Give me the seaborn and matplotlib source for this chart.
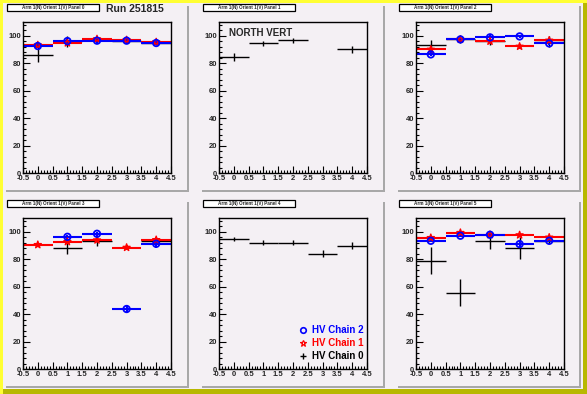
import matplotlib
matplotlib.use("Agg")
import matplotlib.pyplot as plt
from matplotlib.patches import Rectangle
from matplotlib.lines import Line2D
from matplotlib.ticker import MultipleLocator
import seaborn as sns
import pandas as pd
import numpy as np

nan = np.nan

# bin centres and labels
bins = [0, 1, 2, 3, 4]
chains = ["HV Chain 0", "HV Chain 1", "HV Chain 2"]
panel_titles = ["Arm 1(N) Orient 1(V) Panel 0", "Arm 1(N) Orient 1(V) Panel 1",
                "Arm 1(N) Orient 1(V) Panel 2", "Arm 1(N) Orient 1(V) Panel 3",
                "Arm 1(N) Orient 1(V) Panel 4", "Arm 1(N) Orient 1(V) Panel 5"]

# efficiency (%) per panel, per chain, and their errors
p0_c0 = [86.0, 96.0, 97.0, 96.5, 95.0]
p0_c0_err = [5.5, 4.0, 1.5, 1.5, 1.5]
p0_c1 = [93.2, 94.7, 97.6, 96.9, 95.4]
p0_c1_err = [1.5, 1.5, 1.5, 1.5, 1.5]
p0_c2 = [92.5, 96.1, 96.4, 96.4, 94.7]
p0_c2_err = [1.5, 1.5, 1.5, 1.5, 1.5]

p1_c0 = [84.3, 94.4, 96.6, nan, 90.1]
p1_c0_err = [3.0, 2.0, 2.0, 0.0, 2.5]

p2_c0 = [93.2, 97.5, 96.0, nan, 95.5]
p2_c0_err = [3.6, 3.0, 2.5, 0.0, 4.0]
p2_c1 = [90.0, 97.3, 95.9, 92.2, 96.6]
p2_c1_err = [2.0, 1.5, 1.5, 2.0, 1.5]
p2_c2 = [86.4, 97.3, 98.8, 99.5, 94.4]
p2_c2_err = [1.5, 1.5, 1.5, 1.0, 1.5]

p3_c0 = [nan, 88.3, 93.2, nan, 93.5]
p3_c0_err = [0.0, 4.5, 3.5, 0.0, 2.0]
p3_c1 = [90.5, 92.7, 93.9, 88.5, 94.1]
p3_c1_err = [1.5, 1.5, 1.5, 2.0, 2.0]
p3_c2 = [nan, 96.3, 98.5, 43.7, 91.2]
p3_c2_err = [0.0, 1.5, 1.5, 3.0, 3.0]

p4_c0 = [94.9, 92.0, 92.0, 83.9, 89.8]
p4_c0_err = [1.5, 2.0, 2.0, 2.5, 2.5]

p5_c0 = [78.8, 55.4, 93.4, 88.3, 93.0]
p5_c0_err = [9.8, 9.8, 5.7, 8.2, 2.0]
p5_c1 = [95.6, 99.3, 97.8, 97.6, 95.9]
p5_c1_err = [1.0, 1.0, 1.0, 1.0, 1.0]
p5_c2 = [93.4, 97.1, 97.8, 91.0, 93.4]
p5_c2_err = [1.0, 1.0, 1.0, 2.5, 1.0]

panels = [
    [(p0_c0, p0_c0_err), (p0_c1, p0_c1_err), (p0_c2, p0_c2_err)],
    [(p1_c0, p1_c0_err), None, None],
    [(p2_c0, p2_c0_err), (p2_c1, p2_c1_err), (p2_c2, p2_c2_err)],
    [(p3_c0, p3_c0_err), (p3_c1, p3_c1_err), (p3_c2, p3_c2_err)],
    [(p4_c0, p4_c0_err), None, None],
    [(p5_c0, p5_c0_err), (p5_c1, p5_c1_err), (p5_c2, p5_c2_err)],
]

sns.set_style("ticks")
plt.rcParams["font.family"] = ["Liberation Sans", "DejaVu Sans"]
plt.rcParams["font.weight"] = "bold"

W, H = 587, 394
BG = "#f4f0f4"
colors = ["black", "#ff0000", "#0000ff"]
lws = [1.0, 1.5, 1.5]

fig = plt.figure(figsize=(W / 100, H / 100), dpi=100, facecolor="#ffff33")


def rect(x, y, w, h, z=-5, **kw):
    # pixel coords, measured from top-left
    fig.add_artist(Rectangle((x / W, 1 - (y + h) / H), w / W, h / H,
                             transform=fig.transFigure, zorder=z, **kw))


# canvas bevel and background
rect(3, 3, 584, 391, color="#b8b800", lw=0, z=-10)
rect(3, 3, 580, 386, color=BG, lw=0, z=-9)

pad_x = [4, 200, 396]
pad_y = [4, 200]
ax_left = [23, 219, 416]
ax_top = [22, 218]

for i in range(6):
    r, c = divmod(i, 3)
    px, py = pad_x[c], pad_y[r]
    # pad with shadow
    rect(px + 2, py + 2, 183, 186, color="#a8a8a8", lw=0, z=-8)
    rect(px, py, 183, 186, color=BG, lw=0, z=-7)
    # title box
    rect(px + 4, py + 1, 92, 7, color="#808080", lw=0, z=2)
    rect(px + 3, py, 92, 7, facecolor="white", edgecolor="black", lw=0.9, z=3)
    fig.text((px + 49) / W, 1 - (py + 3.6) / H, panel_titles[i],
             fontsize=3.3, ha="center", va="center", zorder=4)

    ax = fig.add_axes([ax_left[c] / W, 1 - (ax_top[r] + 151) / H, 148 / W, 151 / H])
    ax.set_facecolor(BG)

    for k, series in enumerate(panels[i]):
        if series is None:
            continue
        vals, errs = series
        df = pd.DataFrame({"bin": bins, "eff": vals, "err": errs}).dropna()
        ax.errorbar(df["bin"], df["eff"], xerr=0.5, yerr=df["err"], fmt="none",
                    ecolor=colors[k], elinewidth=lws[k], capsize=0)
        if k == 1:
            sns.scatterplot(data=df, x="bin", y="eff", ax=ax, marker="*", s=28,
                            facecolor="none", edgecolor=colors[k], linewidth=1.0, zorder=3)
        elif k == 2:
            sns.scatterplot(data=df, x="bin", y="eff", ax=ax, marker="o", s=22,
                            facecolor="none", edgecolor=colors[k], linewidth=1.3, zorder=4)

    ax.set_xlim(-0.5, 4.5)
    ax.set_ylim(0, 110)
    ax.set_xlabel("")
    ax.set_ylabel("")
    ax.xaxis.set_major_locator(MultipleLocator(0.5))
    ax.xaxis.set_minor_locator(MultipleLocator(0.1))
    ax.yaxis.set_major_locator(MultipleLocator(20))
    ax.yaxis.set_minor_locator(MultipleLocator(4))
    ax.xaxis.set_major_formatter(plt.FuncFormatter(lambda v, p: f"{v:g}"))
    ax.tick_params(axis="both", which="both", direction="in", top=False, right=False,
                   labelsize=5.5, pad=1.5, width=0.8, color="black")
    ax.tick_params(which="major", length=5)
    ax.tick_params(which="minor", length=2.5)
    for lab in ax.get_xticklabels() + ax.get_yticklabels():
        lab.set_fontweight("bold")
    for s in ax.spines.values():
        s.set_linewidth(1.0)
        s.set_color("black")
        s.set_visible(True)

    if i == 1:
        ax.text(0.07, 0.93, "NORTH VERT", transform=ax.transAxes, fontsize=7,
                fontweight="bold", va="center")
    if i == 4:
        handles = [
            Line2D([], [], ls="none", marker="o", ms=4, mfc="none", mec=colors[2], mew=1.2),
            Line2D([], [], ls="none", marker="*", ms=5, mfc="none", mec=colors[1], mew=0.9),
            Line2D([], [], ls="none", marker="+", ms=5, color="black", mew=1.0),
        ]
        leg = ax.legend(handles, ["HV Chain 2", "HV Chain 1", "HV Chain 0"],
                        loc="center left", bbox_to_anchor=(0.5, 0.17), frameon=False,
                        prop={"size": 7, "weight": "bold"}, handlelength=1.0,
                        handletextpad=0.5, labelspacing=0.3, borderpad=0)
        for t, col in zip(leg.get_texts(), [colors[2], colors[1], colors[0]]):
            t.set_color(col)

fig.text(106 / W, 1 - 9 / H, "Run 251815", fontsize=7.5, fontweight="bold", va="center")

fig.savefig("out.png", dpi=100, facecolor=fig.get_facecolor())
